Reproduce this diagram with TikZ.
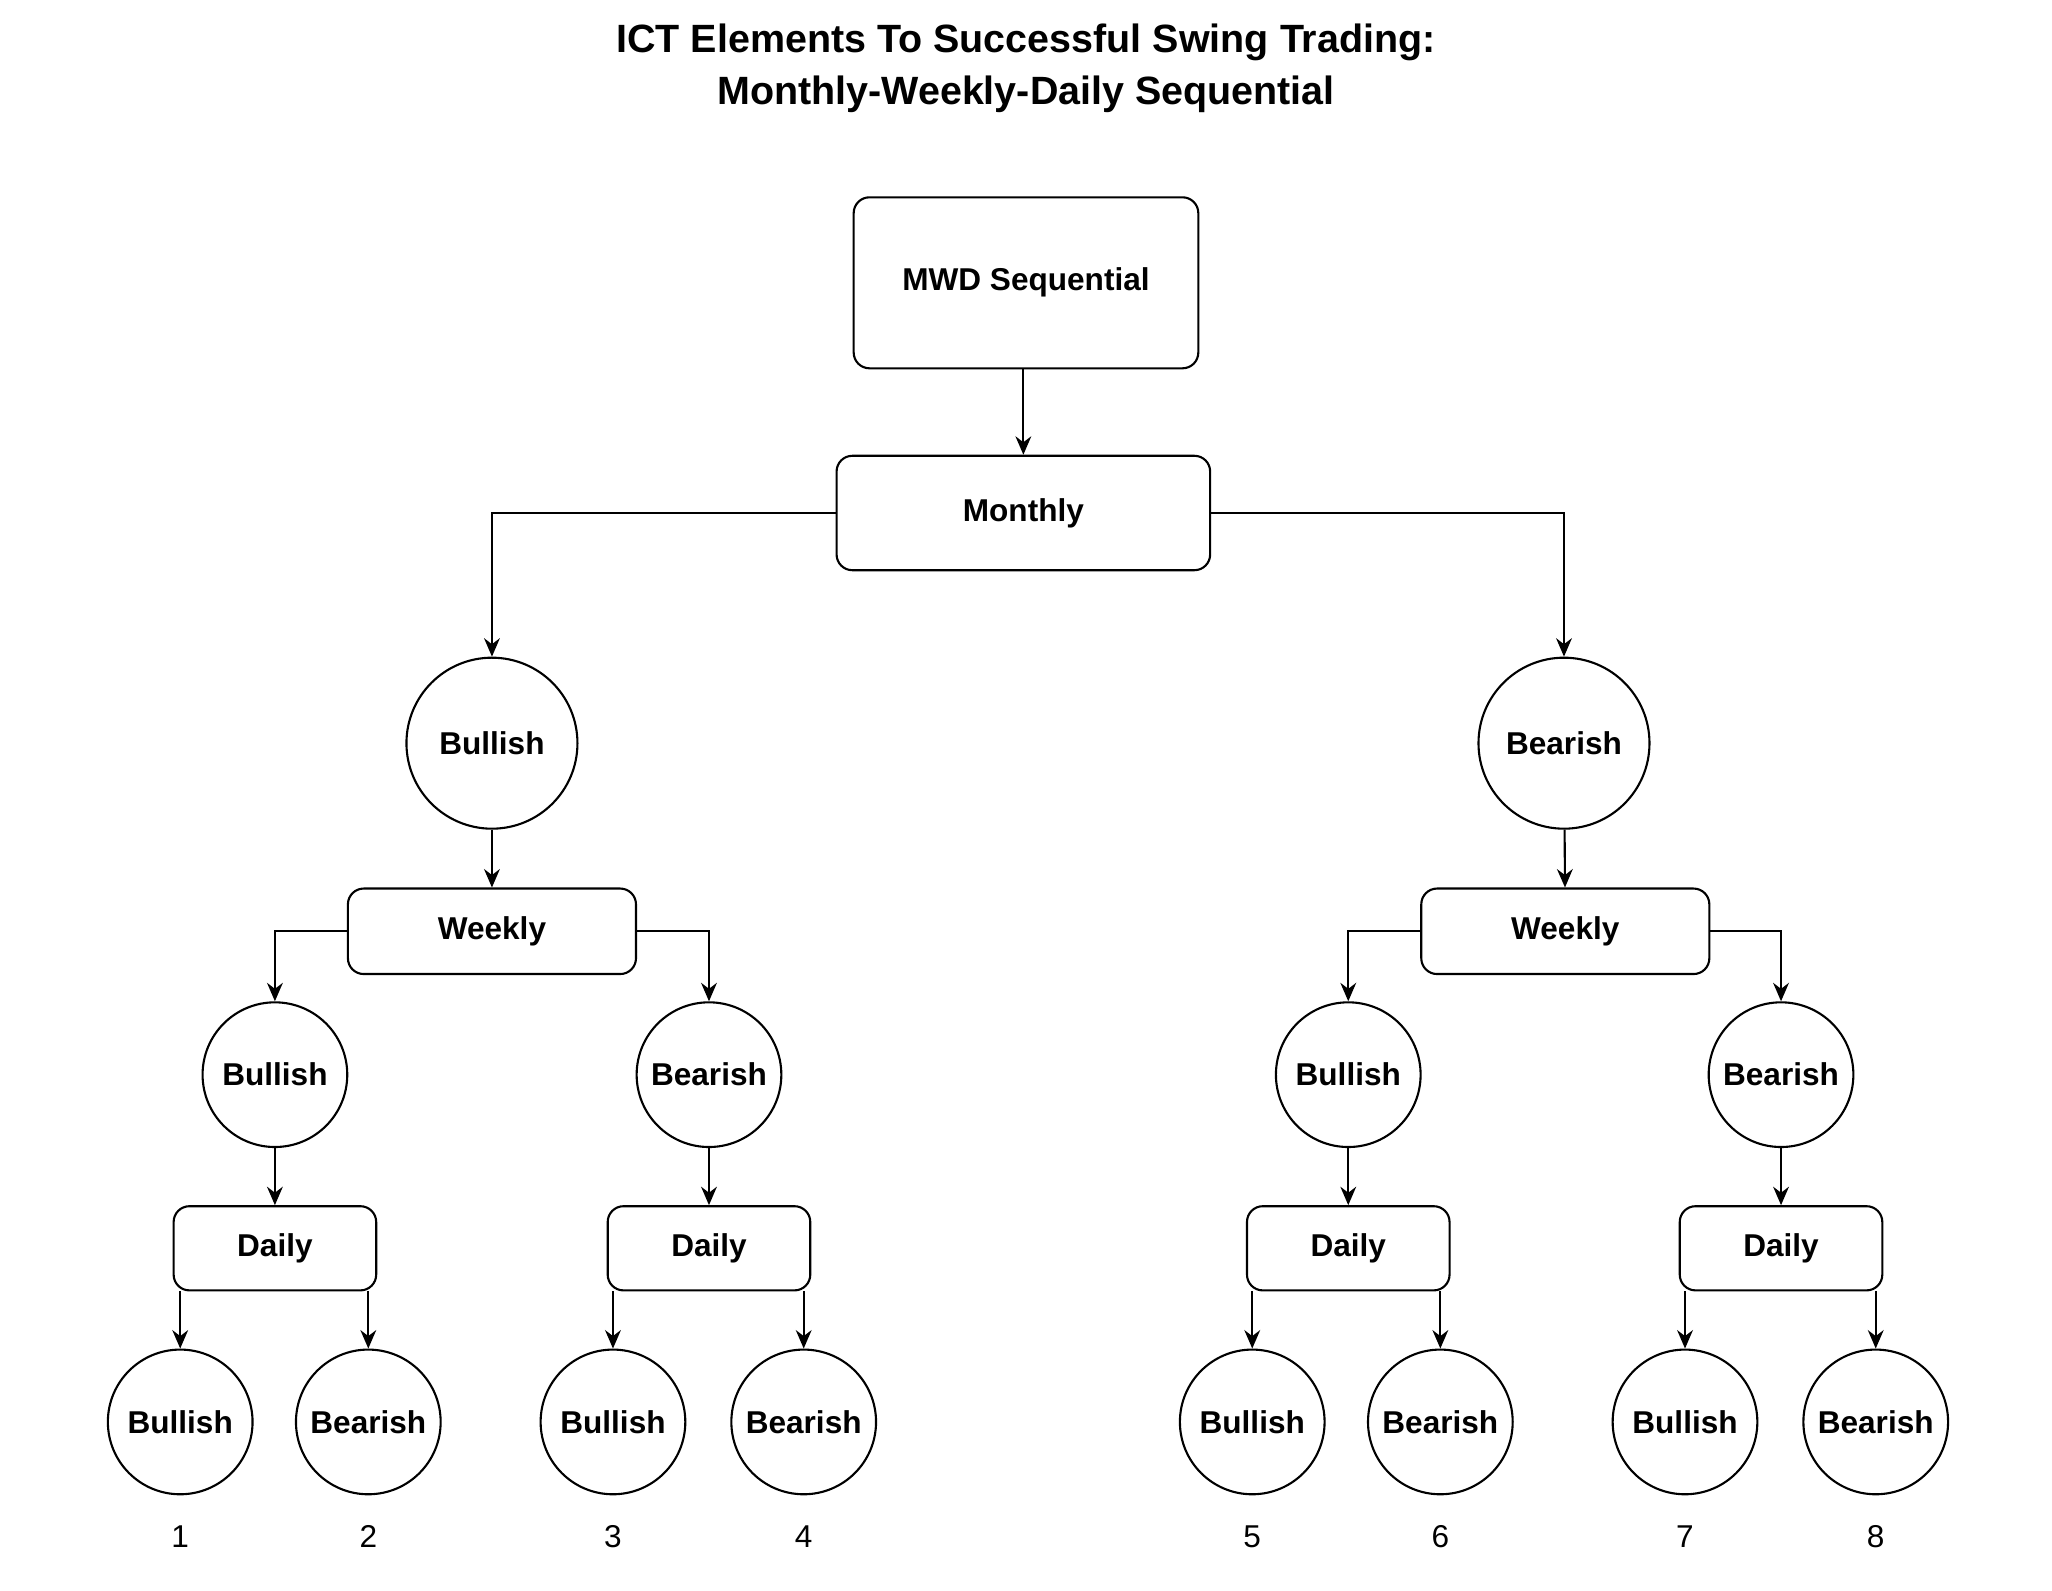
\documentclass[tikz,border=0pt]{standalone}
\usepackage{fontspec}
\setmainfont{Liberation Sans}
\usetikzlibrary{arrows.meta}
\tikzset{
  box/.style={draw, thick, rounded corners=6pt, font=\bfseries\fontsize{12}{14}\selectfont, align=center},
  disc/.style={draw, thick, circle, inner sep=0pt, font=\bfseries\fontsize{12}{14}\selectfont},
  arr/.style={thick, -{Stealth[length=7pt,width=6pt]}}
}
\begin{document}
\begin{tikzpicture}[x=0.5pt, y=-0.5pt]
    % Frame of the page
    \useasboundingbox (0,0) rectangle (1560,1209);

    % Title
    \node[font=\bfseries\fontsize{15}{18}\selectfont, align=center] (title) at (780,52)
        {ICT Elements To Successful Swing Trading:\\[2pt]Monthly-Weekly-Daily Sequential};

    % --- Top of the tree ---
    \node[box, minimum width=131pt, minimum height=65pt] (mwd) at (780,215) {MWD Sequential};
    \node[box, minimum width=142pt, minimum height=43.5pt] (monthly) at (778,390) {Monthly};
    \draw[arr] (mwd.south -| monthly) -- (monthly);

    % --- Monthly bias ---
    \node[disc, minimum size=65pt] (bullM) at (374,565) {Bullish};
    \node[disc, minimum size=65pt] (bearM) at (1189,565) {Bearish};
    \draw[arr] (monthly.west) -| (bullM.north);
    \draw[arr] (monthly.east) -| (bearM.north);

    % --- Weekly ---
    \node[box, minimum width=109.5pt, minimum height=32.5pt] (weekL) at (374,708) {Weekly};
    \node[box, minimum width=109.5pt, minimum height=32.5pt] (weekR) at (1190,708) {Weekly};
    \draw[arr] (bullM) -- (weekL);
    \draw[arr] (bearM) -- (weekR);

    % Weekly bias
    \node[disc, minimum size=55pt] (w1) at (209,817) {Bullish};
    \node[disc, minimum size=55pt] (w2) at (539,817) {Bearish};
    \node[disc, minimum size=55pt] (w3) at (1025,817) {Bullish};
    \node[disc, minimum size=55pt] (w4) at (1354,817) {Bearish};
    \draw[arr] (weekL.west) -| (w1.north);
    \draw[arr] (weekL.east) -| (w2.north);
    \draw[arr] (weekR.west) -| (w3.north);
    \draw[arr] (weekR.east) -| (w4.north);

    % --- Daily ---
    \foreach \i/\x in {1/209, 2/539, 3/1025, 4/1354} {
        \node[box, minimum width=77pt, minimum height=32pt] (d\i) at (\x,949) {Daily};
        \draw[arr] (w\i) -- (d\i);
    }

    % --- Daily bias and outcome numbers ---
    \foreach \n/\x/\d/\t in {1/137/1/Bullish, 2/280/1/Bearish, 3/466/2/Bullish, 4/611/2/Bearish,
                            5/952/3/Bullish, 6/1095/3/Bearish, 7/1281/4/Bullish, 8/1426/4/Bearish} {
        \node[disc, minimum size=55pt] (leaf\n) at (\x,1081) {\t};
        \draw[arr] (d\d.south -| leaf\n) -- (leaf\n.north);
        \node[font=\fontsize{12}{14}\selectfont] (num\n) at (\x,1168) {\n};
    }
\end{tikzpicture}
\end{document}
